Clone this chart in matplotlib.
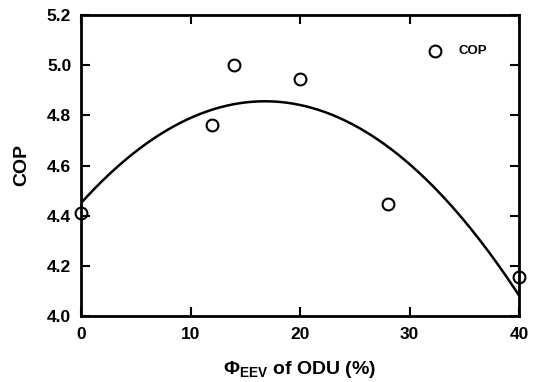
import numpy as np
import matplotlib
matplotlib.use('Agg')
import matplotlib.pyplot as plt

plt.rcParams['font.family'] = ['Liberation Sans', 'DejaVu Sans']
plt.rcParams['font.weight'] = 'bold'
plt.rcParams['mathtext.fontset'] = 'custom'
plt.rcParams['mathtext.rm'] = 'Liberation Sans:bold'
plt.rcParams['mathtext.it'] = 'Liberation Sans:bold'
plt.rcParams['mathtext.bf'] = 'Liberation Sans:bold'

# measured points
phi = [0, 12, 14, 20, 28, 40]
cop = [4.41, 4.76, 5.00, 4.945, 4.447, 4.155]

# quadratic fit of the points
coef = np.polyfit(phi, cop, 2)
xf = np.linspace(0, 40, 200)
yf = np.polyval(coef, xf)

fig = plt.figure(figsize=(5.38, 3.82), dpi=100)
ax = fig.add_axes([81 / 538, 1 - 316 / 382, (519 - 81) / 538, (316 - 15) / 382])
ax.plot(xf, yf, 'k-', linewidth=1.8)
ax.plot(phi, cop, 'o', mfc='none', mec='k', mew=1.5, markersize=8.5, clip_on=False)

# legend entry
ax.plot([32.3], [5.055], 'o', mfc='none', mec='k', mew=1.5, markersize=8.5)
ax.text(34.5, 5.055, 'COP', fontsize=9.5, fontweight='bold', va='center')

ax.set_xlim(0, 40)
ax.set_ylim(4.0, 5.2)
ax.set_xticks([0, 10, 20, 30, 40])
ax.set_yticks([4.0, 4.2, 4.4, 4.6, 4.8, 5.0, 5.2])
ax.set_yticklabels(['4.0', '4.2', '4.4', '4.6', '4.8', '5.0', '5.2'])
ax.tick_params(direction='in', top=True, right=True, length=6.5, width=1.5,
               labelsize=12.5)
ax.tick_params(axis='x', pad=8)
ax.tick_params(axis='y', pad=7)
for s in ax.spines.values():
    s.set_linewidth(2)

ax.set_xlabel(r'$\Phi_{\mathrm{EEV}}$ of ODU (%)', fontsize=14, fontweight='bold', labelpad=12)
ax.set_ylabel('COP', fontsize=14, fontweight='bold', labelpad=12)

fig.savefig('out.png', dpi=100)
